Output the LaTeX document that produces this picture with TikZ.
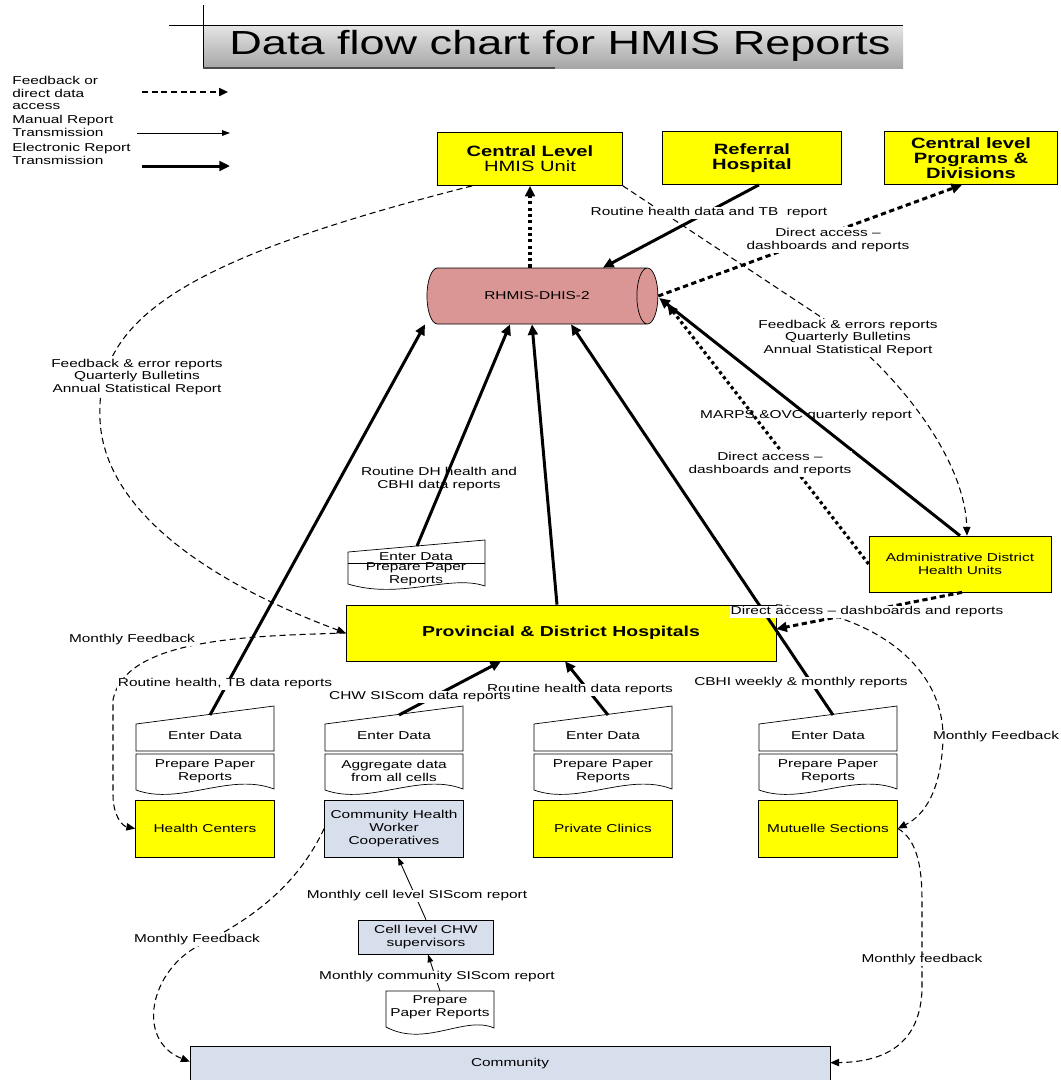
\documentclass[tikz,border=0pt]{standalone}
\usepackage{fontspec}
\setmainfont{Liberation Sans}[FakeStretch=1.35]
\usetikzlibrary{arrows.meta,shapes.geometric,calc}

\definecolor{boxyellow}{RGB}{255,255,0}
\definecolor{boxblue}{RGB}{216,223,236}
\definecolor{dbrose}{RGB}{217,150,148}

\newcommand{\lblsize}{\fontsize{6.5}{7.2}\selectfont}
\newcommand{\boldsize}{\fontsize{8.5}{8.7}\selectfont}

\tikzset{
  ybox/.style={draw, fill=boxyellow, align=center, inner sep=1pt, font=\lblsize},
  bbox/.style={draw, fill=boxblue, align=center, inner sep=1pt, font=\lblsize},
  txt/.style={align=center, inner sep=0pt, font=\lblsize},
  lbl/.style={fill=white, align=center, inner sep=0.6pt, font=\lblsize},
  lblo/.style={align=center, inner sep=0.6pt, font=\lblsize},
  elec/.style={line width=1.7pt, -{Triangle[length=6pt,width=5.5pt]}},
  manual/.style={line width=0.5pt, -{Triangle[length=4.5pt,width=3.2pt]}},
  fdbk/.style={line width=0.6pt, dash pattern=on 3.5pt off 2.2pt, -{Triangle[length=5pt,width=4.2pt]}},
  access/.style={line width=1.7pt, dash pattern=on 3pt off 2pt, -{Triangle[length=6pt,width=5.5pt]}},
  dotacc/.style={line width=1.8pt, dash pattern=on 1.8pt off 1.8pt, -{Triangle[length=6pt,width=5.5pt]}},
}

\begin{document}
\begin{tikzpicture}[x=0.02cm, y=-0.02cm]
    \useasboundingbox (0,0) rectangle (1061,1080);

    % title
    \shade[top color=gray!20, bottom color=gray!70] (203,25) rectangle (903,68);
    \draw (203,5) -- (203,68);
    \draw (169,25) -- (903,25);
    \draw[line width=1pt, black!70] (203,68) -- (555,68);
    \node[font=\fontsize{19}{19}\selectfont] (title) at (560,46) {Data flow chart for HMIS Reports};

    % legend
    \node[txt, anchor=west, align=left] (lg-fb) at (12,93) {Feedback or\\direct data\\access};
    \node[txt, anchor=west, align=left] (lg-man) at (12,126) {Manual Report\\Transmission};
    \node[txt, anchor=west, align=left] (lg-el) at (12,154) {Electronic Report\\Transmission};
    \coordinate (lg-fb-a) at (142,92);
    \coordinate (lg-fb-b) at (228,92);
    \coordinate (lg-man-a) at (137,133);
    \coordinate (lg-man-b) at (230,133);
    \coordinate (lg-el-a) at (142,166);
    \coordinate (lg-el-b) at (230,166);
    \draw[line width=1.1pt, dash pattern=on 3.5pt off 2pt, -{Triangle[length=5pt,width=4.5pt]}] (lg-fb-a) -- (lg-fb-b);
    \draw[manual] (lg-man-a) -- (lg-man-b);
    \draw[elec] (lg-el-a) -- (lg-el-b);

    % top level
    \node[ybox, font=\boldsize, minimum width=3.7cm, minimum height=1.06cm] (hmis) at (530,159) {{\bfseries Central Level}\\HMIS Unit};
    \node[ybox, font=\boldsize\bfseries, minimum width=3.58cm, minimum height=1.06cm] (ref) at (752,158) {Referral\\Hospital};
    \node[ybox, font=\boldsize\bfseries, minimum width=3.46cm, minimum height=1.06cm] (prog) at (971,158) {Central level\\Programs \&\\Divisions};

    \node[draw, cylinder, shape aspect=2.6, fill=dbrose, minimum height=4.62cm, minimum width=1.12cm, inner sep=0pt, font=\lblsize] (db) at (537,296) {RHMIS-DHIS-2};

    % district level
    \node[ybox, minimum width=3.64cm, minimum height=1.12cm] (admin) at (960,564) {Administrative District\\Health Units};
    \node[ybox, font=\fontsize{8.2}{8.4}\selectfont\bfseries, minimum width=8.6cm, minimum height=1.12cm] (hosp) at (561,633) {Provincial \& District Hospitals};

    \draw[fill=white] (348,552) -- (485,540) -- (485,586) .. controls (450,574) and (400,600) .. (348,584) -- cycle;
    \draw (348,563) -- (485,563);
    \node[txt] (mid-in) at (416,557) {Enter Data};
    \node[txt] (mid-pp) at (416,574) {Prepare Paper\\Reports};
    \coordinate (mid-t) at (417,546);

    % health facility level
    \foreach \x/\nm in {205/hc, 394/chw, 603/pc, 828/ms}{
        \draw[fill=white] (\x-69,724) -- (\x+69,706) -- (\x+69,751) -- (\x-69,751) -- cycle;
        \node[txt] (in-\nm) at (\x,736) {Enter Data};
        \coordinate (top-\nm) at (\x+5,715);
    }
    \foreach \x/\nm/\txt in {205/hc/{Prepare Paper\\Reports}, 394/chw/{Aggregate data\\from all cells}, 603/pc/{Prepare Paper\\Reports}, 828/ms/{Prepare Paper\\Reports}}{
        \draw[fill=white] (\x-69,754) -- (\x+69,754) -- (\x+69,789) .. controls (\x+25,772) and (\x-25,806) .. (\x-69,790) -- cycle;
        \node[txt] (pp-\nm) at (\x,771) {\txt};
    }
    \node[ybox, minimum width=2.78cm, minimum height=1.14cm] (hc) at (205,828.5) {Health Centers};
    \node[bbox, minimum width=2.78cm, minimum height=1.14cm] (chw) at (394,828.5) {Community Health\\Worker\\Cooperatives};
    \node[ybox, minimum width=2.78cm, minimum height=1.14cm] (pc) at (603,828.5) {Private Clinics};
    \node[ybox, minimum width=2.78cm, minimum height=1.14cm] (ms) at (828,828.5) {Mutuelle Sections};

    % community level
    \node[bbox, minimum width=2.7cm, minimum height=0.68cm] (cell) at (426,937) {Cell level CHW\\supervisors};
    \draw[fill=white] (386,991) -- (494,991) -- (494,1028) .. controls (465,1015) and (425,1048) .. (386,1027) -- cycle;
    \node[txt] (bdoc) at (440,1007) {Prepare\\Paper Reports};
    \coordinate (bdoc-t) at (440,991);
    \node[bbox, minimum width=12.8cm, minimum height=0.72cm] (comm) at (510,1064) {Community};

    % electronic reports
    \draw[elec] (top-hc) -- ($(db.south)+(-112,0)$);
    \draw[elec] (mid-t) -- ($(db.south)+(-27,0)$);
    \draw[elec] ($(hosp.north)+(-4,0)$) -- ($(db.south)+(-5,0)$);
    \draw[elec] (top-ms) -- ($(db.south)+(34,0)$);
    \draw[elec] (admin.north) -- ($(db.east)+(1,2)$);
    \draw[elec] ($(ref.south)+(7,0)$) -- ($(db.north)+(66,0)$);
    \draw[elec] (top-chw) -- ($(hosp.south)+(-60,0)$);
    \draw[elec] (top-pc) -- ($(hosp.south)+(4,0)$);

    % direct access
    \draw[dotacc] (hmis.south |- db.north) -- (hmis.south);
    \draw[access] (db.east) -- ($(prog.south)+(-9,0)$);
    \draw[dotacc] (admin.west) -- ($(db.east)+(9,8)$);
    \draw[access] ($(admin.south)+(2,0)$) -- ($(hosp.east)+(0,-4)$);

    % feedback
    \draw[fdbk] ($(hmis.south west)+(35,0)$) .. controls (180,260) and (95,320) .. (100,420) .. controls (105,520) and (230,590) .. (hosp.west);
    \draw[fdbk] (hosp.west) .. controls (250,636) and (125,638) .. (113,700) -- (113,795) .. controls (113,815) and (122,826) .. (hc.west);
    \draw[fdbk] (hmis.south east) -- (830,323) .. controls (900,375) and (965,460) .. ($(admin.north)+(7,0)$);
    \draw[fdbk] (hosp.north east) .. controls (880,615) and (945,670) .. (943,740) .. controls (941,790) and (925,815) .. (ms.east);
    \draw[fdbk] (chw.west) .. controls (300,880) and (260,915) .. (200,945) .. controls (150,970) and (135,1040) .. ($(comm.north west)+(0,16)$);
    \draw[fdbk] (ms.east) .. controls (918,840) and (922,870) .. (922,900) -- (922,990) .. controls (920,1040) and (890,1062) .. ($(comm.north east)+(0,17)$);

    % manual reports
    \draw[manual] (cell.north) -- ($(chw.south)+(4,0)$);
    \draw[manual] (bdoc-t) -- ($(cell.south)+(2,0)$);

    % labels
    \node[lbl] (l-ref) at (709,213) {Routine health data and TB\ \ report};
    \node[lbl] (l-prog) at (828,240) {Direct access --\\dashboards and reports};
    \node[lbl] (l-fb-r) at (848,338) {Feedback \& errors reports\\Quarterly Bulletins\\Annual Statistical Report};
    \node[lbl] (l-fb-l) at (137,377) {Feedback \& error reports\\Quarterly Bulletins\\Annual Statistical Report};
    \node[lblo] (l-marps) at (806,416) {MARPS \&OVC quarterly report};
    \node[lbl] (l-adm) at (770,464) {Direct access --\\dashboards and reports};
    \node[lblo] (l-dh) at (439,479) {Routine DH health and\\CBHI data reports};
    \node[lbl] (l-hosp) at (867,612) {Direct access -- dashboards and reports};
    \node[lbl] (l-mf1) at (132,640) {Monthly Feedback};
    \node[lbl] (l-hc) at (225,684) {Routine health, TB data reports};
    \node[lbl] (l-pc) at (580,690) {Routine health data reports};
    \node[lbl] (l-chw) at (420,697) {CHW SIScom data reports};
    \node[lbl] (l-ms) at (801,683) {CBHI weekly \& monthly reports};
    \node[lbl] (l-mf2) at (996,737) {Monthly Feedback};
    \node[lbl] (l-cell) at (417,896) {Monthly cell level SIScom report};
    \node[lbl] (l-comm) at (437,977) {Monthly community SIScom report};
    \node[lbl] (l-mf3) at (197,940) {Monthly Feedback};
    \node[lbl] (l-mf4) at (922,960) {Monthly feedback};
\end{tikzpicture}
\end{document}
